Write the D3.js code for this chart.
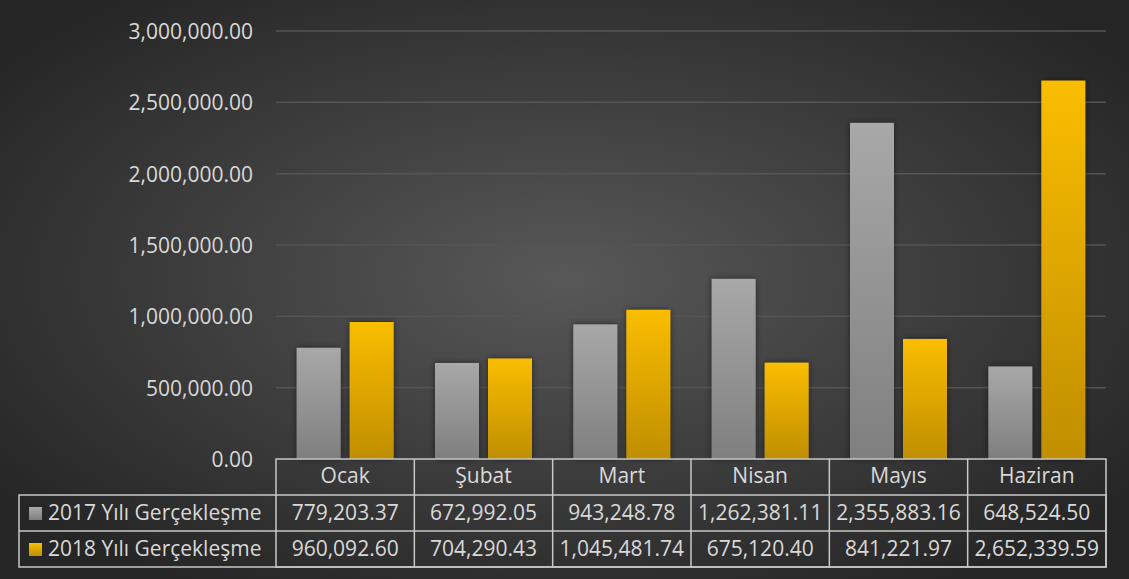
<!DOCTYPE html>
<html><head><meta charset="utf-8">
<script src="https://cdn.jsdelivr.net/npm/d3@7"></script>
<style>
html,body{margin:0;padding:0;background:#2a2a2a;}
svg{display:block;}
text{font-family:"Open Sans",sans-serif;}
</style></head>
<body><svg id="c" width="1129" height="579"></svg>
<script>
const categories = ["Ocak","Şubat","Mart","Nisan","Mayıs","Haziran"];
const seriesNames = ["2017 Yılı Gerçekleşme","2018 Yılı Gerçekleşme"];
const values2017 = [779203.37, 672992.05, 943248.78, 1262381.11, 2355883.16, 648524.50];
const values2018 = [960092.60, 704290.43, 1045481.74, 675120.40, 841221.97, 2652339.59];
const yTicks = [0, 500000, 1000000, 1500000, 2000000, 2500000, 3000000];

const W = 1129, H = 579;
const FS = "21px";
const svg = d3.select("#c");
const defs = svg.append("defs");

const bg = defs.append("radialGradient").attr("id","bg").attr("cx","50%").attr("cy","48%").attr("r","62%");
bg.append("stop").attr("offset","0%").attr("stop-color","#585858");
bg.append("stop").attr("offset","100%").attr("stop-color","#262626");
const g17 = defs.append("linearGradient").attr("id","g17").attr("x1",0).attr("y1",0).attr("x2",0).attr("y2",1);
g17.append("stop").attr("offset","0%").attr("stop-color","#a8a8a8");
g17.append("stop").attr("offset","100%").attr("stop-color","#7f7f7f");
const g18 = defs.append("linearGradient").attr("id","g18").attr("x1",0).attr("y1",0).attr("x2",0).attr("y2",1);
g18.append("stop").attr("offset","0%").attr("stop-color","#fabd00");
g18.append("stop").attr("offset","100%").attr("stop-color","#c08e00");
const sh = defs.append("filter").attr("id","sh").attr("x","-30%").attr("y","-10%").attr("width","160%").attr("height","120%");
sh.append("feGaussianBlur").attr("in","SourceAlpha").attr("stdDeviation",3).attr("result","b");
sh.append("feOffset").attr("in","b").attr("dx",0).attr("dy",0).attr("result","o");
sh.append("feComponentTransfer").attr("in","o").attr("result","o2").append("feFuncA").attr("type","linear").attr("slope",0.5);
const mg = sh.append("feMerge"); mg.append("feMergeNode").attr("in","o2"); mg.append("feMergeNode").attr("in","SourceGraphic");

svg.append("rect").attr("width",W).attr("height",H).attr("fill","url(#bg)");

const plotL = 276, plotR = 1106, plotT = 31, plotB = 459;
const x0 = d3.scaleBand().domain(categories).range([plotL, plotR]);
const x1 = d3.scaleBand().domain(seriesNames).range([0, x0.bandwidth()]).paddingInner(0.17).paddingOuter(0.39);
const y = d3.scaleLinear().domain([0, 3000000]).range([plotB, plotT]);
const fmt = d3.format(",.2f");

// gridlines
svg.append("g").selectAll("line").data(yTicks.filter(d=>d>0)).join("line")
  .attr("x1",plotL).attr("x2",plotR).attr("y1",d=>y(d)).attr("y2",d=>y(d))
  .attr("stroke","#555").attr("stroke-width",1.5);

// y labels
const yAxis = d3.axisLeft(y).tickValues(yTicks).tickFormat(fmt).tickSize(0).tickPadding(0);
const ya = svg.append("g").attr("transform",`translate(253,0)`).call(yAxis);
ya.select(".domain").remove();
ya.selectAll("text").attr("fill","#d9d9d9").style("font-size",FS).style("font-family","'Open Sans',sans-serif").attr("dy","0.35em");

// bars
const seriesData = [values2017, values2018];
const fills = ["url(#g17)","url(#g18)"];
seriesData.forEach((vals, si) => {
  svg.append("g").selectAll("rect").data(vals).join("rect")
    .attr("x",(d,i)=>x0(categories[i]) + x1(seriesNames[si]))
    .attr("width",x1.bandwidth())
    .attr("y",d=>y(d)).attr("height",d=>y(0)-y(d))
    .attr("fill",fills[si]).attr("filter","url(#sh)");
});

// data table
const rowH = 36;
const tbl = svg.append("g");
const stroke = "#c8c8c8";
const legL = 19;
tbl.append("rect").attr("x",plotL).attr("y",plotB).attr("width",plotR-plotL).attr("height",rowH*3)
  .attr("fill","none").attr("stroke",stroke).attr("stroke-width",1.5);
tbl.append("rect").attr("x",legL).attr("y",plotB+rowH).attr("width",plotR-legL).attr("height",rowH*2)
  .attr("fill","none").attr("stroke",stroke).attr("stroke-width",1.5);
tbl.append("line").attr("x1",legL).attr("x2",plotR).attr("y1",plotB+rowH*2).attr("y2",plotB+rowH*2)
  .attr("stroke",stroke).attr("stroke-width",1.5);
tbl.selectAll("line.v").data(categories.slice(1)).join("line").attr("class","v")
  .attr("x1",d=>x0(d)).attr("x2",d=>x0(d)).attr("y1",plotB).attr("y2",plotB+rowH*3)
  .attr("stroke",stroke).attr("stroke-width",1.5);
tbl.selectAll("text.h").data(categories).join("text").attr("class","h")
  .attr("x",d=>x0(d)+x0.bandwidth()/2).attr("y",plotB+rowH/2-1).attr("dy","0.35em")
  .attr("text-anchor","middle").attr("fill","#d9d9d9").style("font-size",FS).text(d=>d);
seriesData.forEach((vals, si) => {
  const ry = plotB + rowH*(si+1);
  tbl.append("rect").attr("x",29).attr("y",ry+rowH/2-6).attr("width",13).attr("height",13).attr("fill",fills[si]);
  tbl.append("text").attr("x",48).attr("y",ry+rowH/2).attr("dy","0.35em")
    .attr("fill","#d9d9d9").style("font-size",FS).text(seriesNames[si]);
  tbl.selectAll("text.v"+si).data(vals).join("text").attr("class","v"+si)
    .attr("x",(d,i)=>x0(categories[i])+x0.bandwidth()/2).attr("y",ry+rowH/2).attr("dy","0.35em")
    .attr("text-anchor","middle").attr("fill","#d9d9d9").style("font-size",FS).text(d=>fmt(d));
});
</script></body></html>
